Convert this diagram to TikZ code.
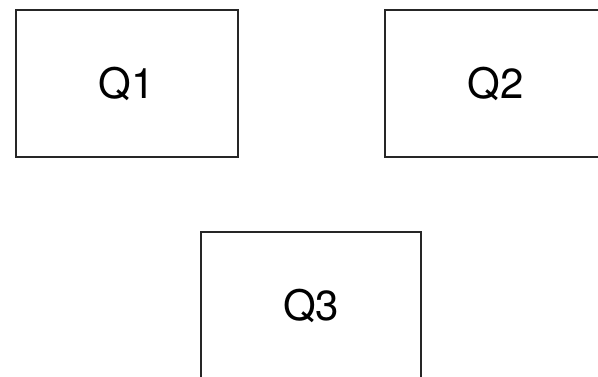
\documentclass[tikz,border=0pt]{standalone}
\usepackage{fontspec}
\setmainfont{TeX Gyre Heros}
\begin{document}
\begin{tikzpicture}[x=1pt,y=-1pt,
  qbox/.style={draw=black!85,line width=2.2pt,minimum width=222pt,minimum height=147pt,inner sep=0pt,font=\fontsize{42}{48}\selectfont,anchor=north west}]
\useasboundingbox (0,0) rectangle (598,376);
\clip (0,0) rectangle (598,376);
\node[qbox] (q1) at (14.5,9) {Q1};
\node[qbox] (q2) at (383.5,9) {Q2};
\node[qbox,minimum width=220pt] (q3) at (200,231) {Q3};
\end{tikzpicture}
\end{document}
